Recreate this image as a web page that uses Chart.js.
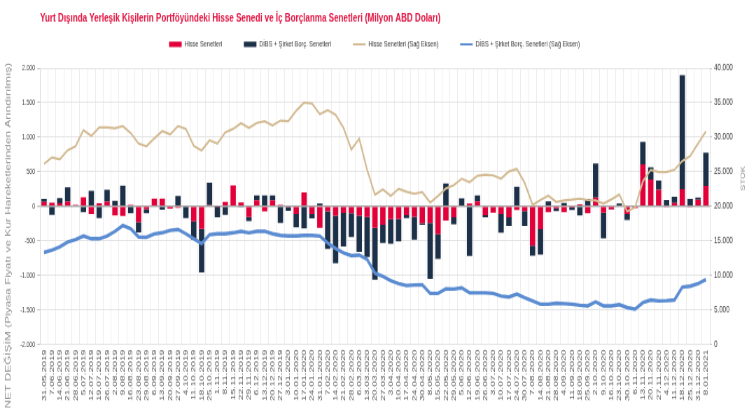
<!DOCTYPE html>
<html>
<head>
<meta charset="utf-8">
<script src="https://cdn.jsdelivr.net/npm/chart.js@4"></script>
<style>
  html, body { margin: 0; padding: 0; background: #fff; }
  canvas { display: block; }
</style>
</head>
<body>
<!-- drawn at 1070x383 and shown at 749x414: the source picture is squeezed sideways -->
<canvas id="chart" width="1070" height="383" style="width:749px;height:414px"></canvas>
<script>
const chartTitle = 'Yurt Dışında Yerleşik Kişilerin Portföyündeki Hisse Senedi ve İç Borçlanma Senetleri (Milyon ABD Doları)';
const leftTitle = 'NET DEĞİŞİM (Piyasa Fiyatı ve Kur Hareketlerinden Arındırılmış)';
const rightTitle = 'STOK';

const dates = [
  '31.05.2019', '7.06.2019', '14.06.2019', '21.06.2019', '28.06.2019', '5.07.2019', '12.07.2019', '19.07.2019', '26.07.2019',
  '2.08.2019', '9.08.2019', '16.08.2019', '23.08.2019', '29.08.2019', '6.09.2019', '13.09.2019', '20.09.2019', '27.09.2019',
  '4.10.2019', '11.10.2019', '18.10.2019', '25.10.2019', '1.11.2019', '8.11.2019', '15.11.2019', '22.11.2019', '29.11.2019',
  '6.12.2019', '13.12.2019', '20.12.2019', '27.12.2019', '3.01.2020', '10.01.2020', '17.01.2020', '24.01.2020', '31.01.2020',
  '7.02.2020', '14.02.2020', '21.02.2020', '28.02.2020', '6.03.2020', '13.03.2020', '20.03.2020', '27.03.2020', '3.04.2020',
  '10.04.2020', '17.04.2020', '24.04.2020', '30.04.2020', '8.05.2020', '15.05.2020', '22.05.2020', '29.05.2020', '5.06.2020',
  '12.06.2020', '19.06.2020', '26.06.2020', '3.07.2020', '10.07.2020', '17.07.2020', '24.07.2020', '30.07.2020', '7.08.2020',
  '14.08.2020', '21.08.2020', '28.08.2020', '4.09.2020', '11.09.2020', '18.09.2020', '25.09.2020', '2.10.2020', '9.10.2020',
  '16.10.2020', '23.10.2020', '30.10.2020', '6.11.2020', '13.11.2020', '20.11.2020', '27.11.2020', '4.12.2020', '11.12.2020',
  '18.12.2020', '25.12.2020', '31.12.2020', '8.01.2021'
];

// weekly net change (left axis)
const hisseNet = [
  62, 52, 43, 66, 19, 128, -114, 43, 66, -133, -140, 19, -233, -43, 109, 109, -35, -22, 0, -220,
  -330, 17, -10, 62, 300, 55, -155, 85, -76, 85, 20, -15, -114, 199, -114, -313, -76, -138, -100, -104,
  -138, -157, -313, -271, -190, -185, -128, -152, -247, -242, -404, -209, -161, 0, 38, 71, -128, -95, -114, -161,
  -57, -71, -570, -332, -85, -33, -85, -19, 28, -104, 123, -95, -43, 0, -114, -28, 608, 389, 237, -10,
  47, 247, -10, 95, 294
];
const dibsNet = [
  45, -125, 76, 207, 0, -88, 223, -171, 171, 76, 297, -104, -147, -60, 0, -50, 0, 150, -174, -264,
  -630, 325, -150, -124, 0, -10, -62, 71, 157, 71, -242, -50, -190, -323, -62, 38, -541, -688, -484, -342,
  -522, -579, -751, -261, -356, -323, -43, -333, -24, -813, -361, 328, -100, 114, -722, 86, -33, 0, -271, -124,
  280, -214, -147, -371, 71, -38, 47, -38, -133, 104, 494, -370, -10, 38, -86, 0, 323, 176, 133, 90,
  90, 1652, 104, 28, 480
];

// stock (right axis)
const hisseStok = [
  26120, 27075, 26790, 28120, 28690, 31020, 30170, 31400, 31400, 31300, 31590, 30600, 29070, 28690, 29830, 30880, 30400, 31590, 31210, 28740,
  28070, 29540, 29070, 30680, 31210, 32020, 31350, 32060, 32300, 31680, 32390, 32300, 33820, 35010, 34870, 33350, 33920, 33250, 31350, 28220,
  29780, 25270, 21660, 22420, 21480, 22520, 22090, 21800, 22040, 20520, 21480, 22560, 23040, 23980, 23470, 24410, 24550, 24460, 23980, 25030,
  25410, 23370, 20190, 20900, 21520, 20620, 20850, 20950, 21090, 20900, 20830, 20380, 20990, 21700, 19240, 19810, 23610, 25270, 24940, 24940,
  25270, 26550, 27260, 29070, 30830
];
const dibsStok = [
  13300, 13630, 14110, 14820, 15150, 15680, 15290, 15290, 15680, 16350, 17200, 16720, 15530, 15500, 15980, 16150, 16490, 16630, 16000, 15290,
  14580, 15860, 16000, 16000, 16150, 16350, 16150, 16350, 16370, 16000, 15770, 15680, 15680, 15770, 15770, 15680, 14680, 13870, 13250, 12830,
  12920, 12300, 10300, 9830, 9220, 8790, 8510, 8590, 8620, 7370, 7370, 8020, 8000, 8170, 7450, 7450, 7450, 7370, 6980, 6840,
  7270, 6740, 6270, 5800, 5800, 5940, 5890, 5800, 5650, 5560, 6150, 5560, 5560, 5750, 5320, 5080, 6030, 6410, 6270, 6320,
  6410, 8270, 8410, 8790, 9360
];

const fmt = v => (v < 0 ? '-' : '') + String(Math.abs(v)).replace(/\B(?=(\d{3})+(?!\d))/g, '.');

Chart.defaults.font.family = '"Liberation Sans", Arial, sans-serif';

// title, legend and axis titles drawn by hand so they sit where the original has them
const extras = {
  id: 'extras',
  afterDraw(chart) {
    const { ctx, chartArea } = chart;
    ctx.save();
    ctx.textBaseline = 'middle';

    ctx.font = 'bold 11.5px "Liberation Sans", Arial, sans-serif';
    ctx.fillStyle = '#e0103f';
    ctx.fillText(chartTitle, chartArea.left, 17);

    ctx.font = '8px "Liberation Sans", Arial, sans-serif';
    const boxW = 18, gap = 4, sep = 31, ly = 41;
    const items = chart.data.datasets;
    let total = sep * (items.length - 1);
    items.forEach(ds => { total += boxW + gap + ctx.measureText(ds.label).width; });
    let x = (chart.width - total) / 2;
    items.forEach(ds => {
      if (ds.type === 'line') {
        ctx.strokeStyle = ds.borderColor;
        ctx.lineWidth = 2;
        ctx.beginPath();
        ctx.moveTo(x, ly);
        ctx.lineTo(x + boxW, ly);
        ctx.stroke();
      } else {
        ctx.fillStyle = ds.backgroundColor;
        ctx.fillRect(x, ly - 2.5, boxW, 5);
      }
      ctx.fillStyle = '#333';
      ctx.fillText(ds.label, x + boxW + gap, ly);
      x += boxW + gap + ctx.measureText(ds.label).width + sep;
    });

    ctx.fillStyle = '#8c8c8c';
    ctx.textAlign = 'center';
    ctx.font = '11px "Liberation Sans", Arial, sans-serif';
    ctx.save();
    ctx.translate(12, 218);
    ctx.rotate(-Math.PI / 2);
    ctx.fillText(leftTitle, 0, 0);
    ctx.restore();

    ctx.font = '8.5px "Liberation Sans", Arial, sans-serif';
    ctx.translate(1062, 165);
    ctx.rotate(-Math.PI / 2);
    ctx.fillText(rightTitle, 0, 0);
    ctx.restore();
  }
};

new Chart(document.getElementById('chart'), {
  type: 'bar',
  data: {
    labels: dates,
    datasets: [
      {
        type: 'bar', label: 'Hisse Senetleri', data: hisseNet, yAxisID: 'y', stack: 's', order: 1,
        backgroundColor: '#e2003a', barPercentage: 0.68, categoryPercentage: 1
      },
      {
        type: 'bar', label: 'DİBS + Şirket Borç. Senetleri', data: dibsNet, yAxisID: 'y', stack: 's', order: 1,
        backgroundColor: '#1c3048', barPercentage: 0.68, categoryPercentage: 1
      },
      {
        type: 'line', label: 'Hisse Senetleri (Sağ Eksen)', data: hisseStok, yAxisID: 'y1', order: 0,
        borderColor: '#d3bb93', borderWidth: 2.2, pointRadius: 0, tension: 0
      },
      {
        type: 'line', label: 'DİBS + Şirket Borç. Senetleri (Sağ Eksen)', data: dibsStok, yAxisID: 'y1', order: 0,
        borderColor: '#5b8cd2', borderWidth: 3.4, pointRadius: 0, tension: 0
      }
    ]
  },
  options: {
    responsive: false,
    animation: false,
    devicePixelRatio: 1,
    layout: { padding: { top: 63, left: 26, right: 20, bottom: 7 } },
    plugins: {
      legend: { display: false },
      title: { display: false },
      tooltip: { enabled: false }
    },
    scales: {
      x: {
        grid: { color: '#ececec', drawTicks: false },
        border: { color: '#e3e3e3' },
        ticks: { autoSkip: false, maxRotation: 90, minRotation: 90, padding: 5, color: '#595959', font: { size: 9.5 } }
      },
      y: {
        position: 'left',
        stacked: true,
        min: -2000,
        max: 2000,
        ticks: { stepSize: 500, callback: fmt, color: '#404040', font: { size: 7.5 }, padding: 3 },
        grid: {
          color: c => c.tick && c.tick.value === 0 ? '#a6a6a6' : '#e3e3e3',
          lineWidth: c => c.tick && c.tick.value === 0 ? 1.5 : 1,
          tickLength: 4,
          tickColor: '#bfbfbf'
        },
        border: { color: '#d9d9d9' }
      },
      y1: {
        position: 'right',
        min: 0,
        max: 40000,
        ticks: { stepSize: 5000, callback: fmt, color: '#404040', font: { size: 8.8 }, padding: 3 },
        grid: { drawOnChartArea: false, tickLength: 3, tickColor: '#bfbfbf' },
        border: { color: '#d9d9d9' }
      }
    }
  },
  plugins: [extras]
});
</script>
</body>
</html>
